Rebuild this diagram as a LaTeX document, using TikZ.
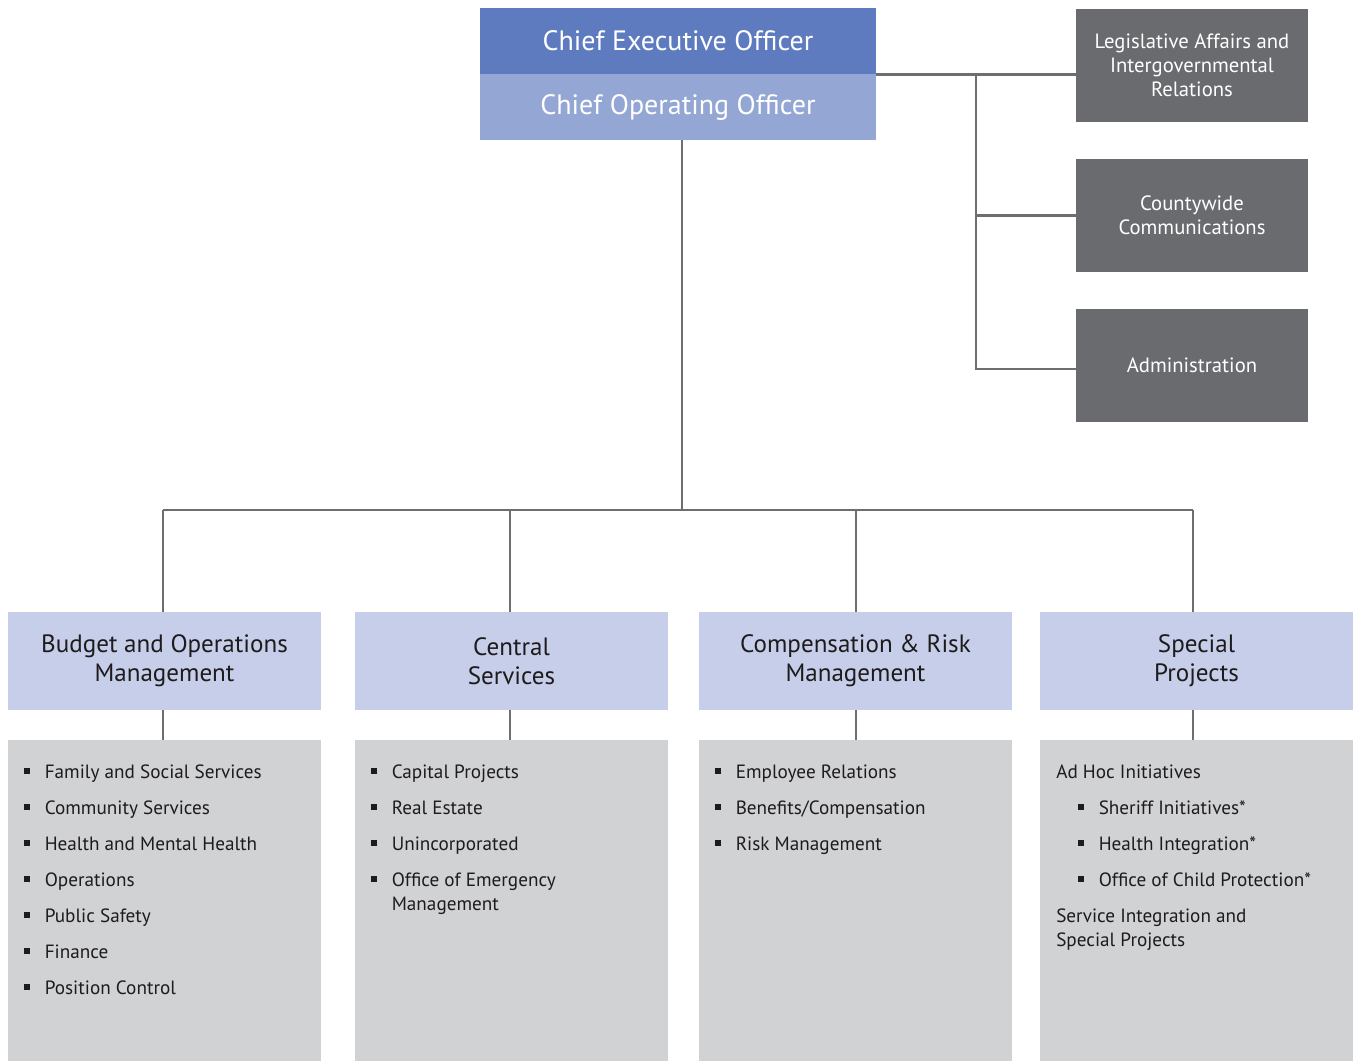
\documentclass[tikz,border=0pt]{standalone}
\usepackage{fontspec}
\setmainfont{PT Sans}
\definecolor{ceoc}{HTML}{5E7BBF}
\definecolor{cooc}{HTML}{94A6D3}
\definecolor{darkc}{HTML}{6A6B6F}
\definecolor{titlec}{HTML}{C6CEE9}
\definecolor{listc}{HTML}{D1D2D4}
\definecolor{linec}{HTML}{6D6E71}
\definecolor{ink}{HTML}{1E1B1C}
\tikzset{
  topbox/.style={minimum width=297pt, minimum height=49.5pt, inner sep=0pt, text=white, font=\fontsize{21}{25}\selectfont},
  rbox/.style={fill=darkc, minimum width=174pt, minimum height=84.75pt, inner sep=0pt, text=white, align=center, font=\fontsize{15.5}{18}\selectfont},
  tbox/.style={fill=titlec, minimum width=234.75pt, minimum height=73.5pt, inner sep=0pt, text=ink, align=center, font=\fontsize{18.8}{21.8}\selectfont},
  lbox/.style={fill=listc, minimum width=234.75pt, minimum height=240.75pt, inner sep=0pt},
  itemtxt/.style={inner sep=0pt, text=ink, font=\fontsize{14.4}{18}\selectfont, align=left},
  conn/.style={draw=linec, line width=1.9pt},
}
\newcommand\bul[4]{\fill[ink] (#2-2.6,#3-2.6) rectangle (#2+2.6,#3+2.6);
  \node[itemtxt, anchor=base west] (#1) at (#2+17.5,#3+7) {#4};}
\newcommand\txt[4]{\node[itemtxt, anchor=base west] (#1) at (#2,#3+7) {#4};}
\begin{document}
\begin{tikzpicture}[x=0.75pt, y=-0.75pt]
\useasboundingbox (0,0) rectangle (1354,1061);
% top
\node[topbox, fill=ceoc] (ceo) at (678,41) {Chief Executive Officer};
\node[topbox, fill=cooc] (coo) at (678,107) {Chief Operating Officer};
% right boxes
\node[rbox] (r1) at (1192,65.5) {Legislative Affairs and\\Intergovernmental\\Relations};
\node[rbox] (r2) at (1192,215.5) {Countywide\\Communications};
\node[rbox] (r3) at (1192,365.5) {Administration};
\coordinate (rt) at (976,74);
\coordinate (rb) at (976,369);
\draw[conn] (ceo.south east) -- (ceo.south east -| r1.west);
\draw[conn] (rt) -- (rb) -- (rb -| r3.west);
\draw[conn] (rt |- r2.west) -- (r2.west);
% bottom title boxes
\node[tbox] (t1) at (164.5,661) {Budget and Operations\\Management};
\node[tbox] (t2) at (511.5,661) {Central\\Services};
\node[tbox] (t3) at (855.5,661) {Compensation \& Risk\\Management};
\node[tbox] (t4) at (1196.5,661) {Special\\Projects};
\node[lbox] (l1) at (164.5,900.5) {};
\node[lbox] (l2) at (511.5,900.5) {};
\node[lbox] (l3) at (855.5,900.5) {};
\node[lbox] (l4) at (1196.5,900.5) {};
\coordinate (bus) at (682,510);
\draw[conn] (coo.south -| bus) -- (bus);
\draw[conn] ([xshift=-1pt]t1.north |- bus) -- ([xshift=-2.5pt]t4.north |- bus);
\draw[conn] ([xshift=-1pt]t1.north) -- ([xshift=-1pt]t1.north |- bus);
\draw[conn] ([xshift=-1pt]t2.north) -- ([xshift=-1pt]t2.north |- bus);
\draw[conn] ([xshift=0.4pt]t3.north) -- ([xshift=0.4pt]t3.north |- bus);
\draw[conn] ([xshift=-2.5pt]t4.north) -- ([xshift=-2.5pt]t4.north |- bus);
\draw[conn] ([xshift=-1pt]t1.south) -- ([xshift=-1pt]l1.north);
\draw[conn] ([xshift=-1pt]t2.south) -- ([xshift=-1pt]l2.north);
\draw[conn] ([xshift=0.4pt]t3.south) -- ([xshift=0.4pt]l3.north);
\draw[conn] ([xshift=-2.5pt]t4.south) -- ([xshift=-2.5pt]l4.north);
% list 1
\bul{a1}{27}{771}{Family and Social Services}
\bul{a2}{27}{807}{Community Services}
\bul{a3}{27}{843}{Health and Mental Health}
\bul{a4}{27}{879}{Operations}
\bul{a5}{27}{915}{Public Safety}
\bul{a6}{27}{951}{Finance}
\bul{a7}{27}{987}{Position Control}
% list 2
\bul{b1}{374}{771}{Capital Projects}
\bul{b2}{374}{807}{Real Estate}
\bul{b3}{374}{843}{Unincorporated}
\bul{b4}{374}{879}{Office of Emergency}
\txt{b5}{391.5}{903}{Management}
% list 3
\bul{c1}{718}{771}{Employee Relations}
\bul{c2}{718}{807}{Benefits/Compensation}
\bul{c3}{718}{843}{Risk Management}
% list 4
\txt{d0}{1056}{771}{Ad Hoc Initiatives}
\bul{d1}{1081}{807}{Sheriff Initiatives*}
\bul{d2}{1081}{843}{Health Integration*}
\bul{d3}{1081}{879}{Office of Child Protection*}
\txt{d4}{1056}{915}{Service Integration and}
\txt{d5}{1056}{939}{Special Projects}
\end{tikzpicture}
\end{document}
